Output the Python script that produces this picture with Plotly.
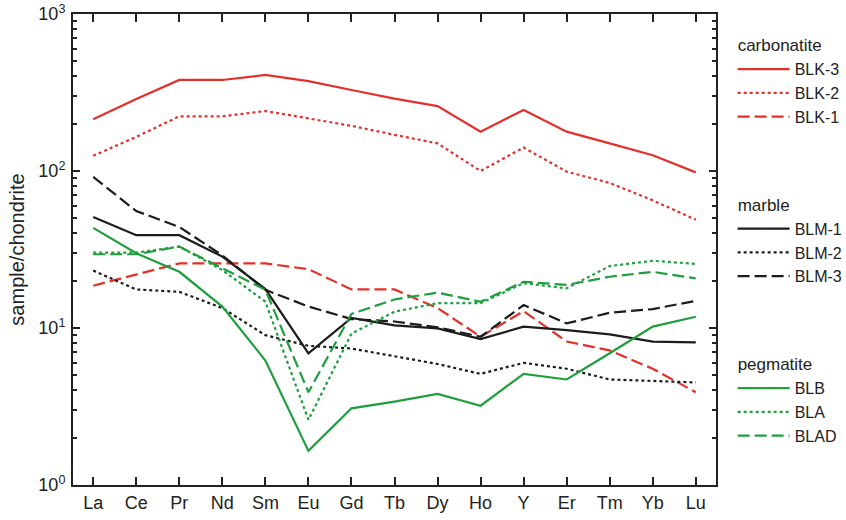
import plotly.graph_objects as go

elements = ["La", "Ce", "Pr", "Nd", "Sm", "Eu", "Gd", "Tb", "Dy", "Ho", "Y", "Er", "Tm", "Yb", "Lu"]

# chondrite-normalised REE
blk3 = [214, 287, 380, 380, 409, 374, 328, 289, 259, 178, 245, 178, 150, 126, 98]
blk2 = [125, 165, 223, 223, 241, 217, 194, 170, 150, 100, 141, 99, 84, 65, 49]
blk1 = [18.6, 22, 25.8, 25.8, 25.8, 23.7, 17.6, 17.6, 13.4, 8.8, 12.8, 8.2, 7.2, 5.5, 3.9]

blm1 = [51, 39, 39, 28.5, 17.7, 6.9, 11.6, 10.4, 9.95, 8.5, 10.2, 9.7, 9.1, 8.2, 8.1]
blm2 = [23.2, 17.6, 17.0, 13.4, 9.0, 7.7, 7.4, 6.6, 5.9, 5.1, 6.0, 5.5, 4.7, 4.6, 4.5]
blm3 = [91.6, 55.6, 44, 29, 17.5, 13.7, 11.4, 11.0, 10.1, 8.8, 14.0, 10.7, 12.5, 13.2, 14.9]

blb = [43.4, 29.9, 22.8, 13.7, 6.2, 1.65, 3.08, 3.4, 3.8, 3.2, 5.1, 4.7, 6.9, 10.2, 11.8]
bla = [30.2, 30.2, 33, 23.4, 14.7, 2.6, 9.2, 12.7, 14.4, 14.4, 19.3, 17.9, 24.8, 26.8, 25.6]
blad = [29.5, 29.5, 33, 24, 17.5, 3.9, 12.3, 15.2, 16.8, 14.7, 19.7, 18.8, 21.2, 22.8, 20.7]

RED = "#E2312A"
BLACK = "#1c1c1c"
GREEN = "#1F9E3E"
DASH = "12px,5px"

series = [
    ("carbonatite", "BLK-3", blk3, RED, "solid"),
    ("carbonatite", "BLK-2", blk2, RED, "dot"),
    ("carbonatite", "BLK-1", blk1, RED, DASH),
    ("marble", "BLM-1", blm1, BLACK, "solid"),
    ("marble", "BLM-2", blm2, BLACK, "dot"),
    ("marble", "BLM-3", blm3, BLACK, DASH),
    ("pegmatite", "BLB", blb, GREEN, "solid"),
    ("pegmatite", "BLA", bla, GREEN, "dot"),
    ("pegmatite", "BLAD", blad, GREEN, DASH),
]

fig = go.Figure()
seen = set()
for group, name, vals, col, dash in series:
    fig.add_trace(go.Scatter(
        x=elements, y=vals, name=name, mode="lines",
        line=dict(color=col, width=2.2, dash=dash),
        legendgroup=group,
        legendgrouptitle_text=group if group not in seen else None,
    ))
    seen.add(group)

font = dict(family="Liberation Sans, Arial, sans-serif", size=17, color="#222")

fig.update_layout(
    width=846, height=520,
    margin=dict(l=73, r=130, t=14, b=35),
    paper_bgcolor="white", plot_bgcolor="white",
    font=font,
    showlegend=True,
    legend=dict(
        xref="container", yref="container",
        x=0.866, y=0.948, xanchor="left", yanchor="top",
        maxheight=500,
        traceorder="grouped", tracegroupgap=63, itemwidth=52,
        font=dict(size=16, color="#222"),
        grouptitlefont=dict(size=17, color="#222"),
        bgcolor="rgba(0,0,0,0)",
    ),
    xaxis=dict(
        type="category", range=[-0.47, 14.47], automargin=False,
        showline=True, linecolor="#222", linewidth=2, mirror="ticks",
        ticks="inside", ticklen=8, tickwidth=2, tickcolor="#222",
        showgrid=False, zeroline=False,
        tickfont=dict(size=18), ticklabelstandoff=0,
    ),
    yaxis=dict(
        type="log", range=[0, 3], automargin=False,
        tickvals=[1, 10, 100, 1000],
        ticktext=["10<sup>0</sup>", "10<sup>1</sup>", "10<sup>2</sup>", "10<sup>3</sup>"],
        ticklabeloverflow="allow",
        showline=True, linecolor="#222", linewidth=2, mirror="ticks",
        ticks="inside", ticklen=7, tickwidth=2, tickcolor="#222",
        minor=dict(ticks="inside", ticklen=4, tickwidth=1.5, tickcolor="#222",
                   tickvals=[m * 10 ** k for k in range(3) for m in range(2, 10)]),
        showgrid=False, zeroline=False,
        tickfont=dict(size=18), ticklabelstandoff=2,
        title=dict(text="sample/chondrite", font=dict(size=20), standoff=8),
    ),
)

# drop the default 8px body margin so the figure sits at the page corner
fig.write_html("out.html", config={"displayModeBar": False},
               post_script="document.body.style.margin='0';")
